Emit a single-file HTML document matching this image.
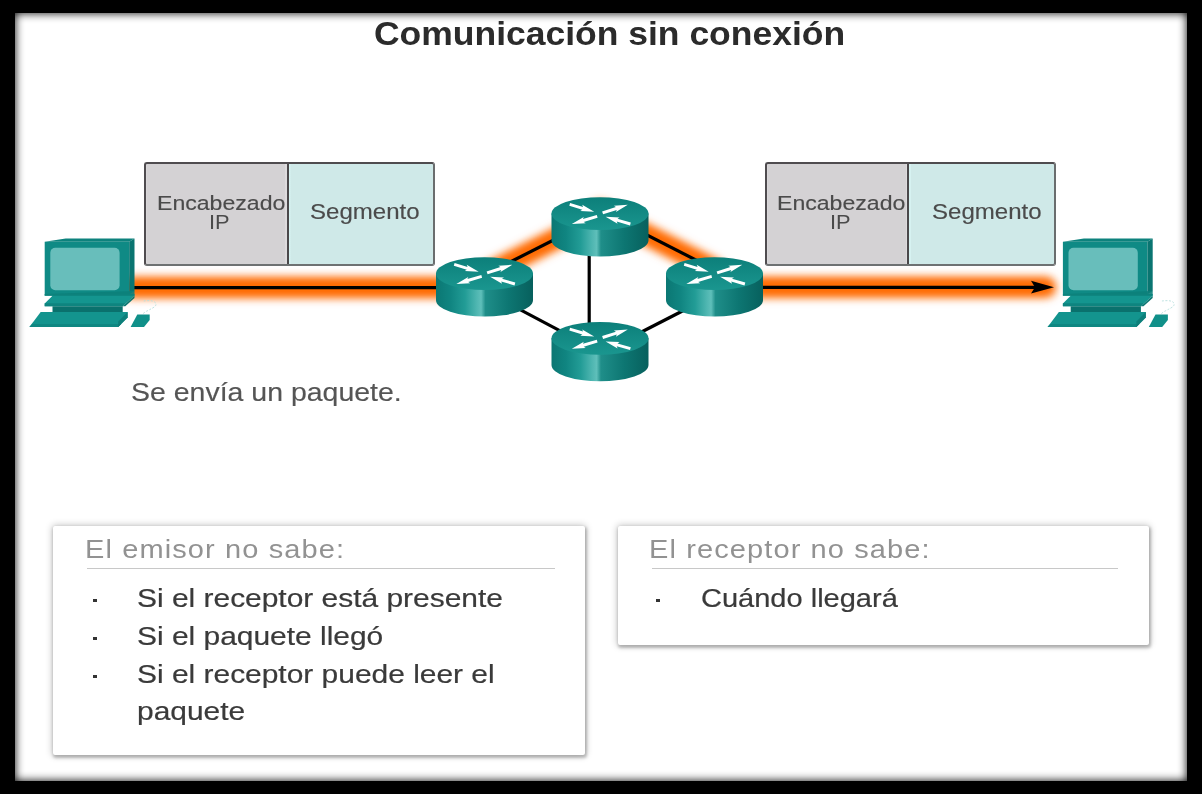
<!DOCTYPE html>
<html><head><meta charset="utf-8">
<style>
html,body{margin:0;padding:0;width:1202px;height:794px;background:#000;overflow:hidden;position:relative}
#page{position:absolute;left:15px;top:13px;width:1172px;height:768px;background:#fff;box-shadow:inset 0 0 10px #000}
.t{position:absolute;font-family:"Liberation Sans",sans-serif;white-space:nowrap;line-height:1;transform-origin:0 0}
svg{position:absolute;left:0;top:0}
.box{position:absolute;border:2px solid #4f4c4f;border-right-color:#6a6d6e;border-bottom-color:#6e7172;border-radius:3px;box-sizing:border-box}
.panel{position:absolute;background:#fff;border-radius:2px;box-shadow:0 0 7px 1px rgba(0,0,0,0.22),1px 2px 3px 1px rgba(0,0,0,0.22)}
.sep{position:absolute;height:1px;background:#c8c8c8}
.dot{position:absolute;width:4px;height:3px;background:#333}
</style></head><body>
<div id="page"></div>
<div class="box" style="left:143.7px;top:161.7px;width:291px;height:104.6px;background:linear-gradient(90deg,#dcdadc 0,#d4d2d4 1.5px,#d4d2d4 138.5px,#dddbdd 139px,#dddbdd 140.6px,#4a484a 140.6px,#4a484a 142.8px,#d6f2f1 142.8px,#d6f2f1 144px,#cfe9e8 145px)"></div>
<div class="box" style="left:764.5px;top:161.7px;width:291px;height:104px;background:linear-gradient(90deg,#dcdadc 0,#d4d2d4 1.5px,#d4d2d4 138.5px,#dddbdd 139px,#dddbdd 140.2px,#4a484a 140.2px,#4a484a 142.4px,#d6f2f1 142.4px,#d6f2f1 143.6px,#cfe9e8 144.5px)"></div>
<svg width="1202" height="794" viewBox="0 0 1202 794">
<defs>
<linearGradient id="side" x1="0" x2="1" y1="0" y2="0">
<stop offset="0" stop-color="#0b7773"/>
<stop offset="0.15" stop-color="#108581"/>
<stop offset="0.3" stop-color="#229c96"/>
<stop offset="0.42" stop-color="#4fb6b1"/>
<stop offset="0.465" stop-color="#5fbfba"/>
<stop offset="0.51" stop-color="#1f8e89"/>
<stop offset="0.75" stop-color="#0d7672"/>
<stop offset="1" stop-color="#07605d"/>
</linearGradient>
<linearGradient id="top" x1="0" x2="0" y1="0" y2="1">
<stop offset="0" stop-color="#0c7f7a"/>
<stop offset="1" stop-color="#1a968f"/>
</linearGradient>
<filter id="glow" x="-20%" y="-50%" width="140%" height="200%"><feGaussianBlur stdDeviation="5"/></filter>
</defs>
<!-- glow -->
<g stroke="#ff6a00" stroke-width="20" fill="none" filter="url(#glow)" stroke-linecap="round">
<line x1="130" y1="287.6" x2="450" y2="287.6"/>
<polyline points="484.5,275 600,216.5"/>
<polyline points="600,211 714.5,269.5"/>
<line x1="750" y1="287.3" x2="1046" y2="287.3"/>
</g>
<g stroke="#ff6a00" stroke-width="12" fill="none" filter="url(#glow)" opacity="0.8">
<line x1="130" y1="287.6" x2="450" y2="287.6"/>
<polyline points="484.5,275 600,216.5"/>
<polyline points="600,211 714.5,269.5"/>
<line x1="750" y1="287.3" x2="1050" y2="287.3"/>
</g>
<!-- black links -->
<g stroke="#000" stroke-width="3.2" fill="none">
<line x1="130" y1="287.6" x2="450" y2="287.6"/>
<line x1="484.5" y1="275" x2="600" y2="216.5"/>
<line x1="600" y1="211" x2="714.5" y2="269.5"/>
<line x1="750" y1="287.3" x2="1036" y2="287.3"/>
<line x1="589.2" y1="230" x2="589.2" y2="345"/>
<line x1="500" y1="299" x2="580" y2="341.3"/>
<line x1="620" y1="343" x2="700" y2="302"/>
</g>
<path d="M1054,287.2 L1031,280.8 L1035,287.2 L1031,293.6 Z" fill="#000"/>
<g transform="translate(484.5,273.6)">
<path d="M-48.5 0 V26.6 A48.5 16.4 0 0 0 48.5 26.6 V0 Z" fill="url(#side)"/>
<ellipse cx="0" cy="0" rx="48.5" ry="16.4" fill="url(#top)"/>
<g fill="#fff"><polygon points="-30.7,-7.8 -17.7,-3.8 -19.7,-2.5 -5.8,-1.8 -17.8,-8.9 -16.9,-6.7 -29.9,-10.6"/>
<polygon points="3.1,0.6 16.8,-3.7 15.9,-1.6 27.8,-8.8 13.9,-7.9 15.9,-6.6 2.1,-2.2"/>
<polygon points="-3.2,1.4 -17.1,5.5 -16.2,3.4 -28.2,10.4 -14.3,9.7 -16.3,8.4 -2.4,4.2"/>
<polygon points="30.8,9.0 17.5,5.1 19.5,3.8 5.6,3.2 17.6,10.1 16.7,8.0 30.0,11.8"/></g>
</g>
<g transform="translate(600,213.6)">
<path d="M-48.5 0 V26.6 A48.5 16.4 0 0 0 48.5 26.6 V0 Z" fill="url(#side)"/>
<ellipse cx="0" cy="0" rx="48.5" ry="16.4" fill="url(#top)"/>
<g fill="#fff"><polygon points="-30.7,-7.8 -17.7,-3.8 -19.7,-2.5 -5.8,-1.8 -17.8,-8.9 -16.9,-6.7 -29.9,-10.6"/>
<polygon points="3.1,0.6 16.8,-3.7 15.9,-1.6 27.8,-8.8 13.9,-7.9 15.9,-6.6 2.1,-2.2"/>
<polygon points="-3.2,1.4 -17.1,5.5 -16.2,3.4 -28.2,10.4 -14.3,9.7 -16.3,8.4 -2.4,4.2"/>
<polygon points="30.8,9.0 17.5,5.1 19.5,3.8 5.6,3.2 17.6,10.1 16.7,8.0 30.0,11.8"/></g>
</g>
<g transform="translate(714.5,273.6)">
<path d="M-48.5 0 V26.6 A48.5 16.4 0 0 0 48.5 26.6 V0 Z" fill="url(#side)"/>
<ellipse cx="0" cy="0" rx="48.5" ry="16.4" fill="url(#top)"/>
<g fill="#fff"><polygon points="-30.7,-7.8 -17.7,-3.8 -19.7,-2.5 -5.8,-1.8 -17.8,-8.9 -16.9,-6.7 -29.9,-10.6"/>
<polygon points="3.1,0.6 16.8,-3.7 15.9,-1.6 27.8,-8.8 13.9,-7.9 15.9,-6.6 2.1,-2.2"/>
<polygon points="-3.2,1.4 -17.1,5.5 -16.2,3.4 -28.2,10.4 -14.3,9.7 -16.3,8.4 -2.4,4.2"/>
<polygon points="30.8,9.0 17.5,5.1 19.5,3.8 5.6,3.2 17.6,10.1 16.7,8.0 30.0,11.8"/></g>
</g>
<g transform="translate(600,338.3)">
<path d="M-48.5 0 V26.6 A48.5 16.4 0 0 0 48.5 26.6 V0 Z" fill="url(#side)"/>
<ellipse cx="0" cy="0" rx="48.5" ry="16.4" fill="url(#top)"/>
<g fill="#fff"><polygon points="-30.7,-7.8 -17.7,-3.8 -19.7,-2.5 -5.8,-1.8 -17.8,-8.9 -16.9,-6.7 -29.9,-10.6"/>
<polygon points="3.1,0.6 16.8,-3.7 15.9,-1.6 27.8,-8.8 13.9,-7.9 15.9,-6.6 2.1,-2.2"/>
<polygon points="-3.2,1.4 -17.1,5.5 -16.2,3.4 -28.2,10.4 -14.3,9.7 -16.3,8.4 -2.4,4.2"/>
<polygon points="30.8,9.0 17.5,5.1 19.5,3.8 5.6,3.2 17.6,10.1 16.7,8.0 30.0,11.8"/></g>
</g>
<g transform="translate(44.7,0)">
<path d="M0,241.8 L84.5,241.8 L84.5,294.3 L0,294.3 Z" fill="#0f8a85"/>
<path d="M0,241.8 L21,238.4 L89.8,238.4 L84.5,241.8 Z" fill="#0d827d"/>
<path d="M84.5,241.8 L89.8,238.4 L89.8,291 L84.5,294.3 Z" fill="#0a7571"/>
<rect x="5.6" y="247.8" width="69.3" height="42.4" rx="5" fill="#68bebb"/>
<path d="M0,294 L89.8,294 L89.8,295.8 L78,306.3 L0,306.3 L0,303.5 L7.8,295.8 L0,295.8 Z" fill="#14958f"/>
<path d="M0,294 L89.8,291 L89.8,295.8 L0,295.8 Z" fill="#0c7f7a" opacity="0.9"/>
<path d="M0,303.3 L80.6,303.3 L78,306.3 L0,306.3 Z" fill="#0e847f"/>
<path d="M89.8,295.8 L89.8,298 L80.6,306.3 L78,306.3 Z" fill="#0b7672"/>
<rect x="7.8" y="306.3" width="70.2" height="5.7" fill="#0a716d"/>
<path d="M-4,312 L83,312 L83,317.6 L73.5,327.1 L-15.3,327.1 Z" fill="#13948e"/>
<path d="M-12.5,324 L76.5,324 L73.5,327.1 L-15.3,327.1 Z" fill="#0f8782"/>
<path d="M83,312 L83,317.6 L73.5,327.1 L73.5,321.5 Z" fill="#0b7672" opacity="0.7"/>
<path d="M92.6,314.4 L105,314.4 L105,320 L99.3,327 L85.9,327 Z" fill="#109089"/>
<path d="M98.5,313.5 C104,309 113,307.5 111,303 C109,300 103,300.5 99,301" stroke="#b8e0de" stroke-width="0.9" stroke-dasharray="2 1.5" fill="none"/>
</g><g transform="translate(1062.9,0)">
<path d="M0,241.8 L84.5,241.8 L84.5,294.3 L0,294.3 Z" fill="#0f8a85"/>
<path d="M0,241.8 L21,238.4 L89.8,238.4 L84.5,241.8 Z" fill="#0d827d"/>
<path d="M84.5,241.8 L89.8,238.4 L89.8,291 L84.5,294.3 Z" fill="#0a7571"/>
<rect x="5.6" y="247.8" width="69.3" height="42.4" rx="5" fill="#68bebb"/>
<path d="M0,294 L89.8,294 L89.8,295.8 L78,306.3 L0,306.3 L0,303.5 L7.8,295.8 L0,295.8 Z" fill="#14958f"/>
<path d="M0,294 L89.8,291 L89.8,295.8 L0,295.8 Z" fill="#0c7f7a" opacity="0.9"/>
<path d="M0,303.3 L80.6,303.3 L78,306.3 L0,306.3 Z" fill="#0e847f"/>
<path d="M89.8,295.8 L89.8,298 L80.6,306.3 L78,306.3 Z" fill="#0b7672"/>
<rect x="7.8" y="306.3" width="70.2" height="5.7" fill="#0a716d"/>
<path d="M-4,312 L83,312 L83,317.6 L73.5,327.1 L-15.3,327.1 Z" fill="#13948e"/>
<path d="M-12.5,324 L76.5,324 L73.5,327.1 L-15.3,327.1 Z" fill="#0f8782"/>
<path d="M83,312 L83,317.6 L73.5,327.1 L73.5,321.5 Z" fill="#0b7672" opacity="0.7"/>
<path d="M92.6,314.4 L105,314.4 L105,320 L99.3,327 L85.9,327 Z" fill="#109089"/>
<path d="M98.5,313.5 C104,309 113,307.5 111,303 C109,300 103,300.5 99,301" stroke="#b8e0de" stroke-width="0.9" stroke-dasharray="2 1.5" fill="none"/>
</g></svg>
<div class="t" style="left:373.5px;top:17.27px;font-size:33px;color:#2b2b2b;font-weight:bold;transform:scaleX(1.075);letter-spacing:0px;">Comunicación sin conexión</div><div class="t" style="left:157px;top:192.85px;font-size:20.5px;color:#4b4b4b;font-weight:normal;transform:scaleX(1.126);letter-spacing:0px;-webkit-text-stroke:0.15px #4b4b4b;">Encabezado</div><div class="t" style="left:209px;top:212.19px;font-size:20.8px;color:#4b4b4b;font-weight:normal;transform:scaleX(1.05);letter-spacing:0px;">IP</div><div class="t" style="left:310px;top:202.20px;font-size:21.5px;color:#4b4b4b;font-weight:normal;transform:scaleX(1.118);letter-spacing:0px;-webkit-text-stroke:0.15px #4b4b4b;">Segmento</div><div class="t" style="left:777px;top:192.85px;font-size:20.5px;color:#4b4b4b;font-weight:normal;transform:scaleX(1.126);letter-spacing:0px;-webkit-text-stroke:0.15px #4b4b4b;">Encabezado</div><div class="t" style="left:829.5px;top:212.19px;font-size:20.8px;color:#4b4b4b;font-weight:normal;transform:scaleX(1.05);letter-spacing:0px;">IP</div><div class="t" style="left:932px;top:202.20px;font-size:21.5px;color:#4b4b4b;font-weight:normal;transform:scaleX(1.118);letter-spacing:0px;-webkit-text-stroke:0.15px #4b4b4b;">Segmento</div><div class="t" style="left:131px;top:379.96px;font-size:25.8px;color:#555;font-weight:normal;transform:scaleX(1.104);letter-spacing:0px;-webkit-text-stroke:0.15px #555;">Se envía un paquete.</div><div class="panel" style="left:53px;top:526px;width:532px;height:229px"></div>
<div class="panel" style="left:618px;top:526px;width:531px;height:119px"></div>
<div class="t" style="left:85px;top:535.99px;font-size:26px;color:#929292;font-weight:normal;transform:scaleX(1.115);letter-spacing:1.0px;">El emisor no sabe:</div><div class="t" style="left:648.5px;top:535.99px;font-size:26px;color:#929292;font-weight:normal;transform:scaleX(1.115);letter-spacing:1.0px;">El receptor no sabe:</div><div class="sep" style="left:87px;top:568px;width:468px"></div>
<div class="sep" style="left:652px;top:568px;width:466px"></div>
<div class="t" style="left:137px;top:585.97px;font-size:25.2px;color:#3a3a3a;font-weight:normal;transform:scaleX(1.188);letter-spacing:0px;-webkit-text-stroke:0.2px #3a3a3a;">Si el receptor está presente</div><div class="dot" style="left:93px;top:599px"></div>
<div class="t" style="left:137px;top:623.97px;font-size:25.2px;color:#3a3a3a;font-weight:normal;transform:scaleX(1.188);letter-spacing:0px;-webkit-text-stroke:0.2px #3a3a3a;">Si el paquete llegó</div><div class="dot" style="left:93px;top:637px"></div>
<div class="t" style="left:137px;top:661.97px;font-size:25.2px;color:#3a3a3a;font-weight:normal;transform:scaleX(1.188);letter-spacing:0px;-webkit-text-stroke:0.2px #3a3a3a;">Si el receptor puede leer el</div><div class="dot" style="left:93px;top:675px"></div>
<div class="t" style="left:137px;top:699.47px;font-size:25.2px;color:#3a3a3a;font-weight:normal;transform:scaleX(1.188);letter-spacing:0px;-webkit-text-stroke:0.2px #3a3a3a;">paquete</div><div class="t" style="left:701px;top:585.97px;font-size:25.2px;color:#3a3a3a;font-weight:normal;transform:scaleX(1.152);letter-spacing:0px;-webkit-text-stroke:0.2px #3a3a3a;">Cuándo llegará</div><div class="dot" style="left:656px;top:599px"></div>
</body></html>
